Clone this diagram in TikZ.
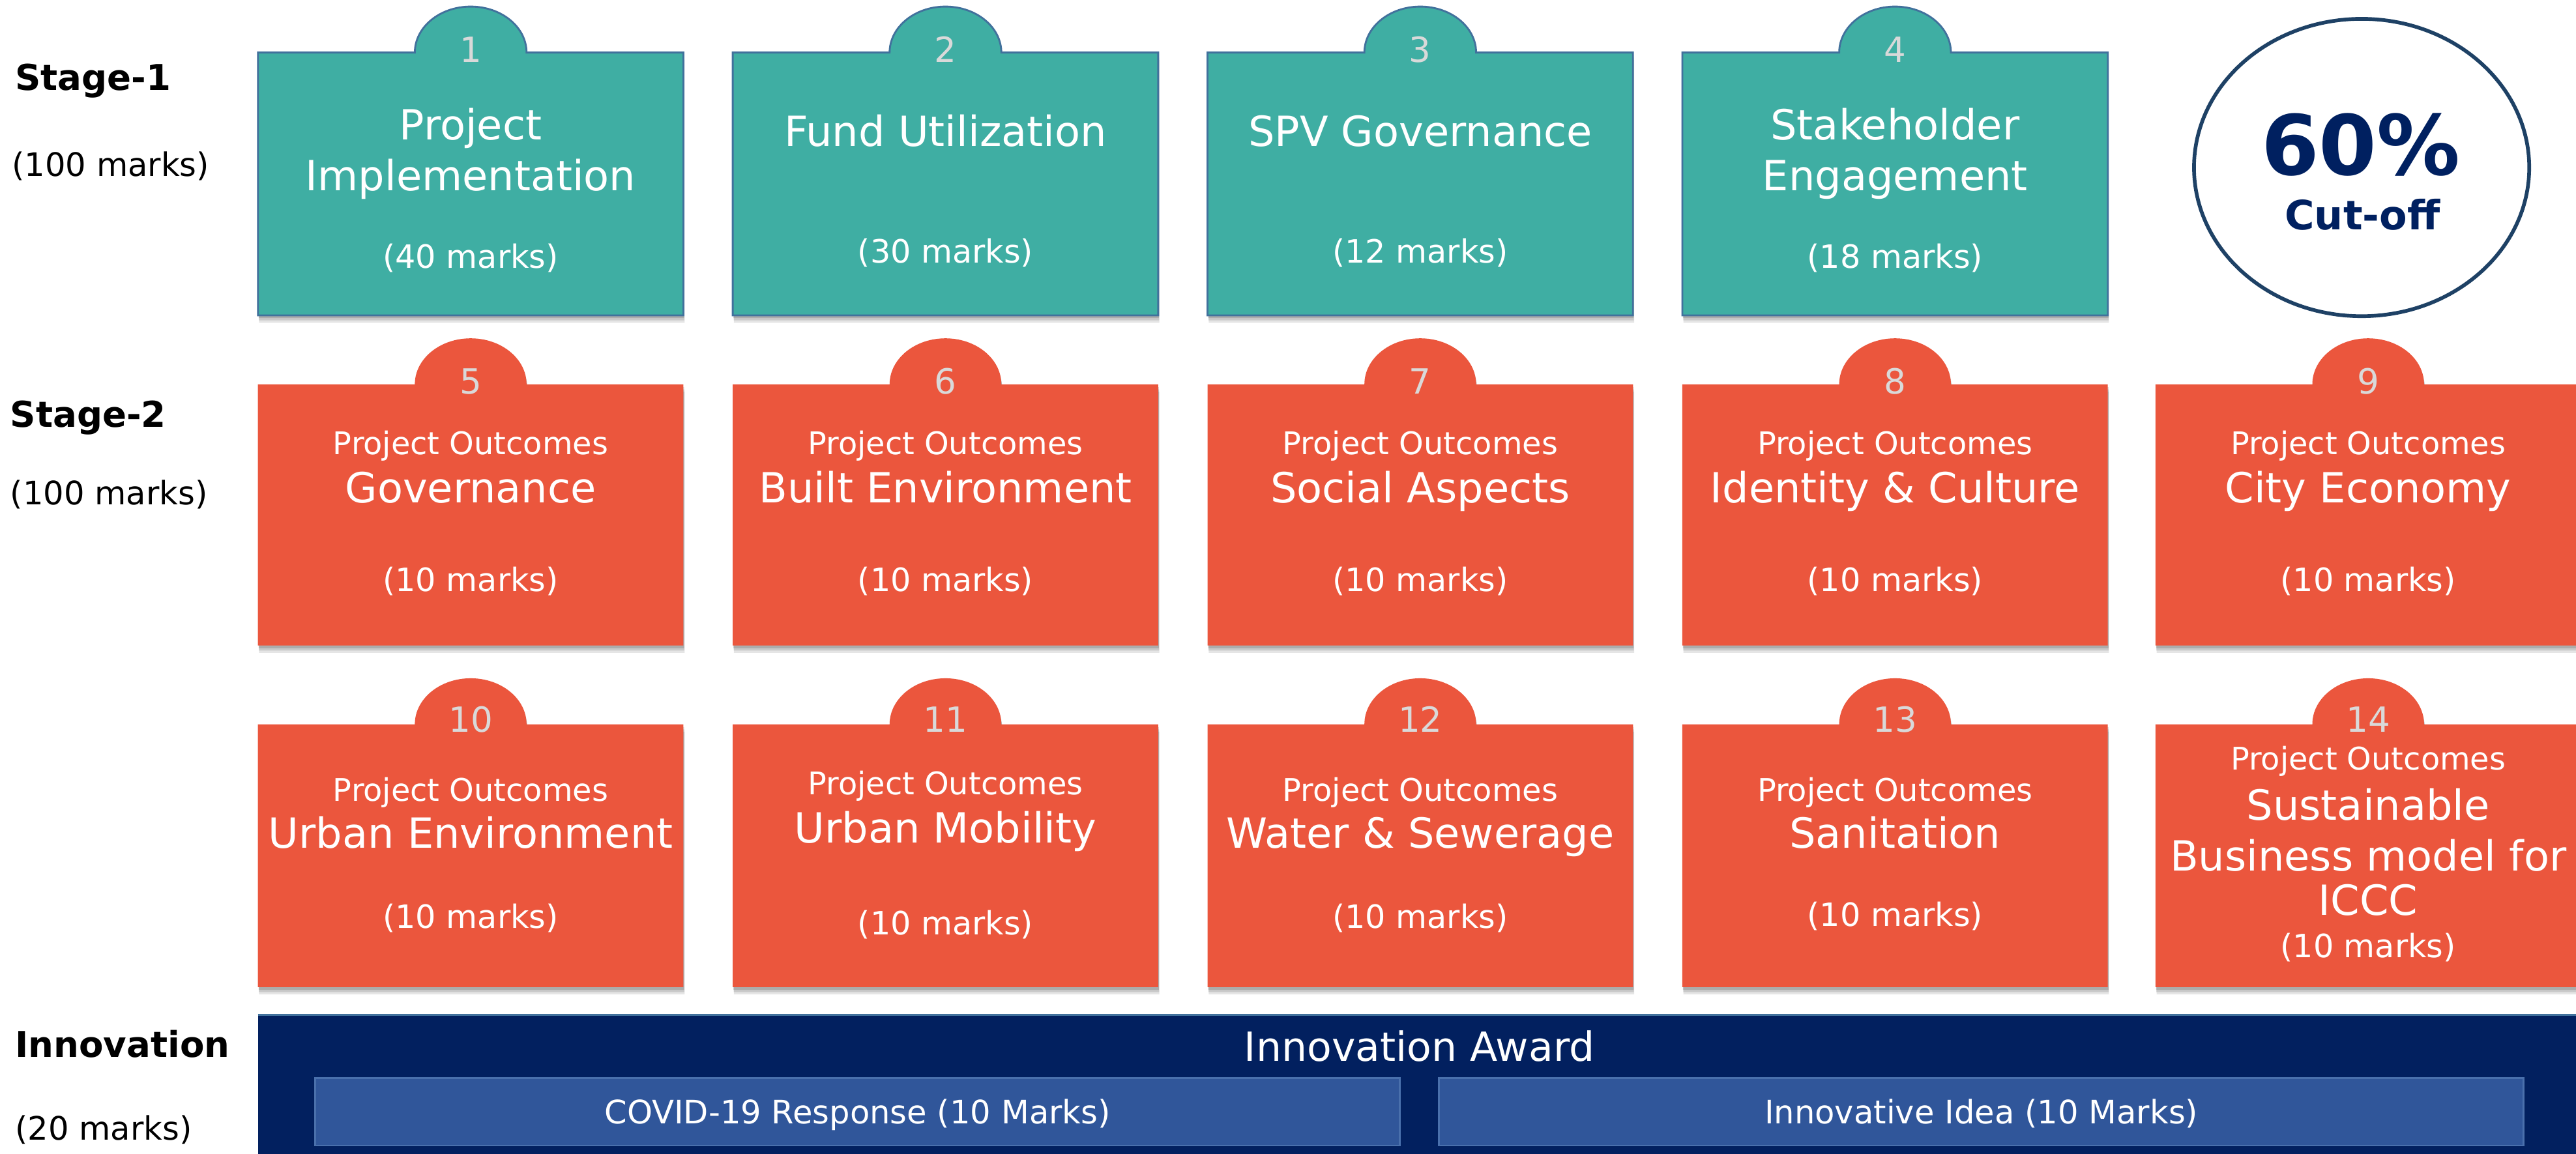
\documentclass[tikz,border=0pt]{standalone}
\usepackage{fontspec}
\setmainfont{DejaVu Sans}
\usetikzlibrary{shapes.geometric}
\definecolor{tealc}{HTML}{3FAEA3}
\definecolor{tealborder}{HTML}{41719C}
\definecolor{orangec}{HTML}{EB563D}
\definecolor{navyc}{HTML}{02205F}
\definecolor{subc}{HTML}{30569A}
\definecolor{subborder}{HTML}{4A70AC}
\definecolor{ellborder}{HTML}{1E4165}
\definecolor{numgray}{HTML}{D9D9D9}
\definecolor{darknavy}{HTML}{002060}
\tikzset{
  boxshadow/.style={
    preaction={fill=black,opacity=0.10,transform canvas={xshift=0.5pt,yshift=-3.2pt}},
    preaction={fill=black,opacity=0.12,transform canvas={xshift=0.4pt,yshift=-2.2pt}},
    preaction={fill=black,opacity=0.14,transform canvas={xshift=0.3pt,yshift=-1.2pt}}},
  tealbox/.style={boxshadow,fill=tealc,draw=tealborder,line width=0.8pt},
  orangebox/.style={boxshadow,fill=orangec},
  txt/.style={inner sep=0pt,anchor=base},
  numtxt/.style={txt,text=numgray,font=\fontsize{15}{15}\selectfont,yshift=-5.48pt},
  maintxt/.style={txt,text=white,font=\fontsize{18}{20}\selectfont,yshift=-6.57pt},
  potxt/.style={txt,text=white,font=\fontsize{13.5}{15}\selectfont,yshift=-4.93pt},
  marktxt/.style={txt,text=white,font=\fontsize{13.9}{15}\selectfont,yshift=-5.07pt},
  stagetxt/.style={txt,anchor=base west,text=black,font=\fontsize{15.4}{17}\selectfont\bfseries,yshift=-5.62pt},
  stagemark/.style={txt,anchor=base west,text=black,font=\fontsize{14}{16}\selectfont,yshift=-5.11pt},
}
\newcommand\TabBox[4]{%
  \path[#3] (#1,-#2-#4) -- (#1,-#2) -- (#1+95.5,-#2)
    arc[start angle=180,end angle=0,x radius=34,y radius=28]
    -- (#1+259,-#2) -- (#1+259,-#2-#4) -- cycle;}
\begin{document}
\begin{tikzpicture}[x=0.025cm,y=0.025cm]
\useasboundingbox (0,0) rectangle (1568,-702.66);
\path[fill=white] (0,0) rectangle (1568,-702.66);

% ---------- left labels
\node[stagetxt] (s1) at (9,-47) {Stage-1};
\node[stagemark] (s1m) at (7,-100) {(100 marks)};
\node[stagetxt] (s2) at (6,-252) {Stage-2};
\node[stagemark] (s2m) at (6,-300) {(100 marks)};
\node[stagetxt] (s3) at (9,-636) {Innovation};
\node[stagemark] (s3m) at (9,-687) {(20 marks)};

% ---------- Stage 1 boxes
\TabBox{157}{32}{tealbox}{160}
\TabBox{446}{32}{tealbox}{160}
\TabBox{735}{32}{tealbox}{160}
\TabBox{1024}{32}{tealbox}{160}

\node[numtxt] (n1) at (286.5,-30) {1};
\node[maintxt] (b1a) at (286.5,-76) {Project};
\node[maintxt] (b1b) at (286.5,-107) {Implementation};
\node[marktxt] (b1m) at (286.5,-156) {(40 marks)};

\node[numtxt] (n2) at (575.5,-30) {2};
\node[maintxt] (b2a) at (575.5,-80) {Fund Utilization};
\node[marktxt] (b2m) at (575.5,-153) {(30 marks)};

\node[numtxt] (n3) at (864.5,-30) {3};
\node[maintxt] (b3a) at (864.5,-80) {SPV Governance};
\node[marktxt] (b3m) at (864.5,-153) {(12 marks)};

\node[numtxt] (n4) at (1153.5,-30) {4};
\node[maintxt] (b4a) at (1153.5,-76) {Stakeholder};
\node[maintxt] (b4b) at (1153.5,-107) {Engagement};
\node[marktxt] (b4m) at (1153.5,-156) {(18 marks)};

% ---------- cut-off ellipse
\node[ellipse,draw=ellborder,line width=1.6pt,fill=white,minimum width=204pt*0.7113,minimum height=181pt*0.7113,inner sep=0pt] (cut) at (1437.5,-102) {};
\node[txt,text=darknavy,font=\fontsize{36}{36}\selectfont\bfseries,yshift=-13.1pt] (p60) at (1437,-88) {60\%};
\node[txt,text=darknavy,font=\fontsize{17.5}{18}\selectfont\bfseries,yshift=-6.39pt] (cutoff) at (1438,-131) {Cut-off};

% ---------- Stage 2 row A
\TabBox{157}{234}{orangebox}{159}
\TabBox{446}{234}{orangebox}{159}
\TabBox{735}{234}{orangebox}{159}
\TabBox{1024}{234}{orangebox}{159}
\TabBox{1312}{234}{orangebox}{159}

\node[numtxt] (n5) at (286.5,-232) {5};
\node[potxt] (b5p) at (286.5,-270) {Project Outcomes};
\node[maintxt] (b5a) at (286.5,-297) {Governance};
\node[marktxt] (b5m) at (286.5,-353) {(10 marks)};

\node[numtxt] (n6) at (575.5,-232) {6};
\node[potxt] (b6p) at (575.5,-270) {Project Outcomes};
\node[maintxt] (b6a) at (575.5,-297) {Built Environment};
\node[marktxt] (b6m) at (575.5,-353) {(10 marks)};

\node[numtxt] (n7) at (864.5,-232) {7};
\node[potxt] (b7p) at (864.5,-270) {Project Outcomes};
\node[maintxt] (b7a) at (864.5,-297) {Social Aspects};
\node[marktxt] (b7m) at (864.5,-353) {(10 marks)};

\node[numtxt] (n8) at (1153.5,-232) {8};
\node[potxt] (b8p) at (1153.5,-270) {Project Outcomes};
\node[maintxt] (b8a) at (1153.5,-297) {Identity \& Culture};
\node[marktxt] (b8m) at (1153.5,-353) {(10 marks)};

\node[numtxt] (n9) at (1441.5,-232) {9};
\node[potxt] (b9p) at (1441.5,-270) {Project Outcomes};
\node[maintxt] (b9a) at (1441.5,-297) {City Economy};
\node[marktxt] (b9m) at (1441.5,-353) {(10 marks)};

% ---------- Stage 2 row B
\TabBox{157}{441}{orangebox}{160}
\TabBox{446}{441}{orangebox}{160}
\TabBox{735}{441}{orangebox}{160}
\TabBox{1024}{441}{orangebox}{160}
\TabBox{1312}{441}{orangebox}{160}

\node[numtxt] (n10) at (286.5,-438) {10};
\node[potxt] (b10p) at (286.5,-481) {Project Outcomes};
\node[maintxt] (b10a) at (286.5,-507) {Urban Environment};
\node[marktxt] (b10m) at (286.5,-558) {(10 marks)};

\node[numtxt] (n11) at (575.5,-438) {11};
\node[potxt] (b11p) at (575.5,-477) {Project Outcomes};
\node[maintxt] (b11a) at (575.5,-504) {Urban Mobility};
\node[marktxt] (b11m) at (575.5,-562) {(10 marks)};

\node[numtxt] (n12) at (864.5,-438) {12};
\node[potxt] (b12p) at (864.5,-481) {Project Outcomes};
\node[maintxt] (b12a) at (864.5,-507) {Water \& Sewerage};
\node[marktxt] (b12m) at (864.5,-558) {(10 marks)};

\node[numtxt] (n13) at (1153.5,-438) {13};
\node[potxt] (b13p) at (1153.5,-481) {Project Outcomes};
\node[maintxt] (b13a) at (1153.5,-507) {Sanitation};
\node[marktxt] (b13m) at (1153.5,-557) {(10 marks)};

\node[numtxt] (n14) at (1441.5,-438) {14};
\node[potxt] (b14p) at (1441.5,-462) {Project Outcomes};
\node[maintxt] (b14a) at (1441.5,-490) {Sustainable};
\node[maintxt] (b14b) at (1441.5,-521) {Business model for};
\node[maintxt] (b14c) at (1441.5,-548) {ICCC};
\node[marktxt] (b14m) at (1441.5,-576) {(10 marks)};

% ---------- Innovation band
\path[fill=navyc] (157,-618) rectangle (1572,-706);
\draw[tealborder,line width=0.8pt] (157,-618) -- (1572,-618);
\node[txt,text=white,font=\fontsize{17.4}{18}\selectfont,yshift=-6.35pt] (award) at (864,-637) {Innovation Award};
\node[draw=subborder,line width=0.8pt,fill=subc,minimum width=660*0.7113pt,minimum height=41*0.7113pt,inner sep=0pt] (covid) at (522,-677) {};
\node[draw=subborder,line width=0.8pt,fill=subc,minimum width=660*0.7113pt,minimum height=41*0.7113pt,inner sep=0pt] (idea) at (1206,-677) {};
\node[txt,text=white,font=\fontsize{14}{15}\selectfont,yshift=-5.11pt] (covidt) at (covid.center) {COVID-19 Response (10 Marks)};
\node[txt,text=white,font=\fontsize{14}{15}\selectfont,yshift=-5.11pt] (ideat) at (idea.center) {Innovative Idea (10 Marks)};
\end{tikzpicture}
\end{document}
